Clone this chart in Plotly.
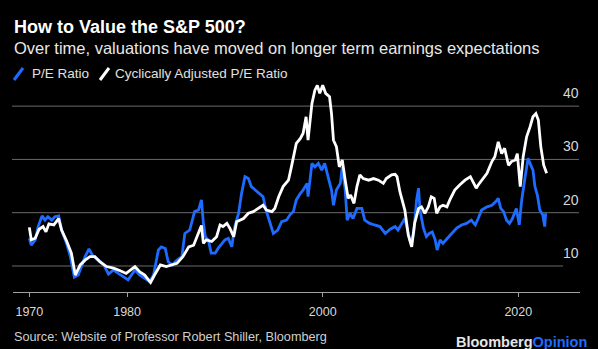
import plotly.graph_objects as go

# ---------------- data ----------------
pe_years = [1970.0, 1970.2, 1970.6, 1970.9, 1971.3, 1971.6, 1971.9, 1972.3, 1972.6, 1973.0,
            1973.3, 1973.8, 1974.2, 1974.6, 1975.0, 1975.4, 1975.7, 1976.1, 1976.5, 1977.1,
            1977.6, 1978.1, 1978.6, 1979.1, 1979.6, 1980.1, 1980.8, 1981.3, 1981.8, 1982.3,
            1982.7, 1983.2, 1983.5, 1983.9, 1984.2, 1984.6, 1985.1, 1985.6, 1985.9, 1986.4,
            1986.9, 1987.3, 1987.6, 1987.8, 1988.0, 1988.3, 1988.6, 1989.0, 1989.3, 1989.7,
            1990.0, 1990.35, 1990.7, 1991.0, 1991.4, 1991.7, 1992.05, 1992.4, 1992.7, 1993.1,
            1993.5, 1993.9, 1994.2, 1994.6, 1994.95, 1995.4, 1995.8, 1996.3, 1996.65, 1997.0,
            1997.3, 1997.7, 1998.0, 1998.4, 1998.5, 1998.9, 1999.2, 1999.55, 1999.9, 2000.2,
            2000.6, 2000.9, 2001.1, 2001.4, 2001.8, 2002.0, 2002.3, 2002.5, 2002.8, 2003.1,
            2003.5, 2004.0, 2004.3, 2004.8, 2005.3, 2005.85, 2006.4, 2006.9, 2007.4, 2007.7,
            2008.1, 2008.4, 2008.75, 2009.0, 2009.3, 2009.6, 2009.8, 2009.95, 2010.3, 2010.6,
            2010.9, 2011.2, 2011.5, 2011.7, 2012.0, 2012.3, 2012.75, 2013.2, 2013.7, 2014.2,
            2014.7, 2015.2, 2015.6, 2015.9, 2016.25, 2016.8, 2017.3, 2017.7, 2017.95, 2018.2,
            2018.5, 2018.8, 2019.1, 2019.4, 2019.8, 2020.1, 2020.35, 2020.7, 2021.0, 2021.2,
            2021.5, 2021.7, 2021.95, 2022.2, 2022.5, 2022.7, 2022.8]
pe_values = [15.2, 13.9, 14.9, 17.4, 19.4, 18.6, 19.25, 18.6, 19.25, 19.4,
             16.75, 14.25, 11.75, 7.9, 8.3, 10.5, 11.75, 13.2, 11.9, 11.1,
             10.2, 8.5, 9.25, 8.6, 8.0, 7.4, 9.25, 8.3, 7.7, 7.1,
             8.3, 13.0, 13.6, 13.3, 10.8, 10.2, 11.1, 11.75, 16.1, 16.75,
             20.2, 20.5, 22.4, 18.0, 15.5, 14.9, 12.4, 12.4, 13.3, 14.25,
             14.9, 15.2, 13.6, 17.4, 19.9, 23.6, 26.75, 26.4, 24.9, 24.25,
             23.6, 23.0, 20.5, 18.0, 16.1, 16.75, 18.3, 18.6, 19.6, 20.2,
             22.4, 23.6, 24.25, 25.5, 23.0, 29.25, 28.6, 29.25, 28.0, 29.25,
             26.1, 24.25, 21.4, 24.25, 25.5, 28.6, 24.25, 18.6, 19.9, 18.9,
             20.8, 20.8, 18.6, 18.0, 17.7, 17.4, 16.1, 16.9, 17.4, 16.75,
             18.0, 18.9, 16.1, 14.25, 16.1, 22.4, 24.6, 20.5, 17.1, 15.5,
             16.1, 16.4, 14.9, 13.0, 14.9, 14.25, 15.2, 16.1, 17.1, 17.7,
             18.0, 18.6, 17.7, 18.9, 20.5, 21.1, 21.4, 22.1, 22.7, 20.8,
             20.2, 18.6, 18.0, 18.9, 20.8, 17.7, 22.4, 26.75, 30.2, 29.25,
             28.0, 24.9, 23.3, 20.5, 19.6, 17.4, 19.9]

cape_years = [1970.0, 1970.2, 1970.6, 1971.0, 1971.4, 1971.7, 1972.0, 1972.5, 1973.0, 1973.3,
              1973.8, 1974.3, 1974.7, 1975.2, 1975.7, 1976.2, 1976.7, 1977.2, 1977.9, 1978.6,
              1979.3, 1979.9, 1980.8, 1981.3, 1981.8, 1982.4, 1982.8, 1983.4, 1984.0, 1984.6,
              1985.1, 1985.7, 1986.3, 1986.8, 1987.3, 1987.6, 1987.8, 1988.1, 1988.65, 1989.15,
              1989.5, 1989.8, 1990.2, 1990.5, 1990.9, 1991.2, 1991.9, 1992.4, 1992.9, 1993.4,
              1993.9, 1994.25, 1994.8, 1995.1, 1995.5, 1995.95, 1996.5, 1996.8, 1997.3, 1997.7,
              1998.0, 1998.3, 1998.5, 1998.9, 1999.2, 1999.45, 1999.7, 2000.0, 2000.3, 2000.7,
              2000.9, 2001.1, 2001.4, 2001.7, 2002.0, 2002.3, 2002.6, 2002.85, 2003.2, 2003.5,
              2003.8, 2004.15, 2004.7, 2005.2, 2005.7, 2006.2, 2006.5, 2007.05, 2007.4, 2007.6,
              2007.9, 2008.4, 2008.75, 2009.1, 2009.4, 2009.8, 2010.1, 2010.45, 2010.8, 2011.1,
              2011.4, 2011.65, 2012.0, 2012.3, 2012.7, 2013.0, 2013.5, 2014.0, 2014.55, 2015.1,
              2015.4, 2015.7, 2015.9, 2016.25, 2016.8, 2017.3, 2017.6, 2017.95, 2018.3, 2018.6,
              2019.0, 2019.3, 2019.7, 2019.9, 2020.2, 2020.5, 2020.85, 2021.2, 2021.5, 2021.8,
              2022.05, 2022.3, 2022.6, 2022.9]
cape_values = [17.25, 14.9, 15.2, 16.9, 17.4, 16.4, 17.9, 17.7, 18.9, 16.75,
               14.75, 12.4, 8.3, 10.2, 11.1, 11.75, 11.75, 10.8, 9.9, 9.6,
               9.1, 8.6, 9.9, 8.9, 8.3, 6.9, 8.3, 10.2, 9.9, 10.2,
               10.5, 11.75, 13.6, 13.9, 16.1, 17.6, 14.25, 14.9, 14.6, 15.5,
               17.7, 17.4, 18.0, 17.1, 15.5, 18.3, 18.9, 19.9, 20.2, 20.8,
               21.4, 20.5, 20.2, 20.8, 23.0, 24.9, 26.1, 28.6, 33.0, 33.9,
               34.9, 38.0, 33.6, 40.5, 43.0, 43.9, 42.4, 43.9, 42.4, 41.75,
               38.6, 33.6, 32.4, 28.6, 29.9, 26.1, 22.7, 23.3, 21.75, 24.9,
               27.1, 26.4, 26.1, 26.4, 26.1, 25.5, 26.4, 27.1, 27.2, 26.75,
               23.9, 20.5, 15.8, 13.6, 18.0, 20.8, 21.1, 19.9, 21.1, 23.0,
               22.7, 19.9, 21.1, 21.4, 21.1, 22.4, 24.25, 25.2, 26.1, 26.75,
               25.8, 24.6, 25.2, 26.1, 27.4, 29.6, 30.5, 33.3, 31.1, 32.1,
               28.9, 29.6, 29.9, 31.1, 24.9, 30.5, 34.25, 36.1, 38.0, 38.6,
               37.4, 32.4, 28.9, 27.4]

x_tick_vals = [1970, 1980, 2000, 2020]
x_tick_text = ["1970", "1980", "2000", "2020"]
y_grid_vals = [10, 20, 30, 40]
y_grid_text = ["10", "20", "30", "40"]

series_names = ["P/E Ratio", "Cyclically Adjusted P/E Ratio"]

# ---------------- styling / layout ----------------
W, H = 598, 349
L, R, T, B = 13, 18, 80, 57
PW, PH = W - L - R, H - T - B
BLUE = "#1e6bff"
FONT = "Liberation Sans, Arial, sans-serif"


def px(xp):
    return (xp - L) / PW


def py(yp):
    return (H - B - yp) / PH


fig = go.Figure()
fig.add_trace(go.Scatter(x=pe_years, y=pe_values, mode="lines", name=series_names[0],
                         line=dict(color=BLUE, width=2.8), showlegend=False, hoverinfo="skip"))
fig.add_trace(go.Scatter(x=cape_years, y=cape_values, mode="lines", name=series_names[1],
                         line=dict(color="#ffffff", width=2.8), showlegend=False, hoverinfo="skip"))

annotations = [
    dict(text="<b>How to Value the S&P 500?</b>", x=px(12), y=py(27), xref="paper", yref="paper",
         xanchor="left", yanchor="middle", showarrow=False,
         font=dict(family=FONT, size=18, color="#ffffff")),
    dict(text="Over time, valuations have moved on longer term earnings expectations",
         x=px(12), y=py(48), xref="paper", yref="paper", xanchor="left", yanchor="middle",
         showarrow=False, font=dict(family=FONT, size=16.5, color="#e8e8e8")),
    dict(text=series_names[0], x=px(30), y=py(74), xref="paper", yref="paper",
         xanchor="left", yanchor="middle", showarrow=False,
         font=dict(family=FONT, size=13.5, color="#e0e0e0")),
    dict(text=series_names[1], x=px(113), y=py(74), xref="paper", yref="paper",
         xanchor="left", yanchor="middle", showarrow=False,
         font=dict(family=FONT, size=13.5, color="#e0e0e0")),
    dict(text="Source: Website of Professor Robert Shiller, Bloomberg", x=px(12), y=py(337),
         xref="paper", yref="paper", xanchor="left", yanchor="middle", showarrow=False,
         font=dict(family=FONT, size=12.7, color="#cfcfcf")),
    dict(text="<b><span style='color:#e6e6e6'>Bloomberg</span><span style='color:%s'>Opinion</span></b>" % BLUE,
         x=px(589), y=py(342), xref="paper", yref="paper", xanchor="right", yanchor="middle",
         showarrow=False, font=dict(family=FONT, size=14.5, color="#e6e6e6")),
]
for v, t in zip(y_grid_vals, y_grid_text):
    annotations.append(dict(text=t, x=px(581), y=v, xref="paper", yref="y", xanchor="right",
                            yanchor="middle", yshift=13, showarrow=False,
                            font=dict(family=FONT, size=14, color="#d8d8d8")))

shapes = [
    dict(type="line", xref="paper", yref="paper", x0=px(14), y0=py(80), x1=px(23), y1=py(68),
         line=dict(color=BLUE, width=3)),
    dict(type="line", xref="paper", yref="paper", x0=px(100), y0=py(80), x1=px(109), y1=py(68),
         line=dict(color="#ffffff", width=3)),
]
for v in y_grid_vals:
    shapes.append(dict(type="line", xref="paper", yref="y", x0=px(12),
                       x1=px(563) if v == 10 else px(579), y0=v, y1=v,
                       line=dict(color="#6a6a6a", width=1), layer="below"))

fig.update_layout(
    width=W, height=H,
    margin=dict(l=L, r=R, t=T, b=B, pad=0),
    paper_bgcolor="#000000", plot_bgcolor="#000000",
    annotations=annotations, shapes=shapes,
    xaxis=dict(range=[1968.33, 2026.31], tickvals=x_tick_vals, ticktext=x_tick_text,
               showgrid=False, zeroline=False, showline=True, linecolor="#a0a0a0", linewidth=1,
               ticks="outside", ticklen=4, tickcolor="#a0a0a0", tickwidth=1,
               ticklabelstandoff=4,
               tickfont=dict(family=FONT, size=12.5, color="#d8d8d8")),
    yaxis=dict(range=[5.12, 44.9], showgrid=False, zeroline=False, showticklabels=False,
               showline=False),
    showlegend=False,
)

fig.write_html("out.html")
